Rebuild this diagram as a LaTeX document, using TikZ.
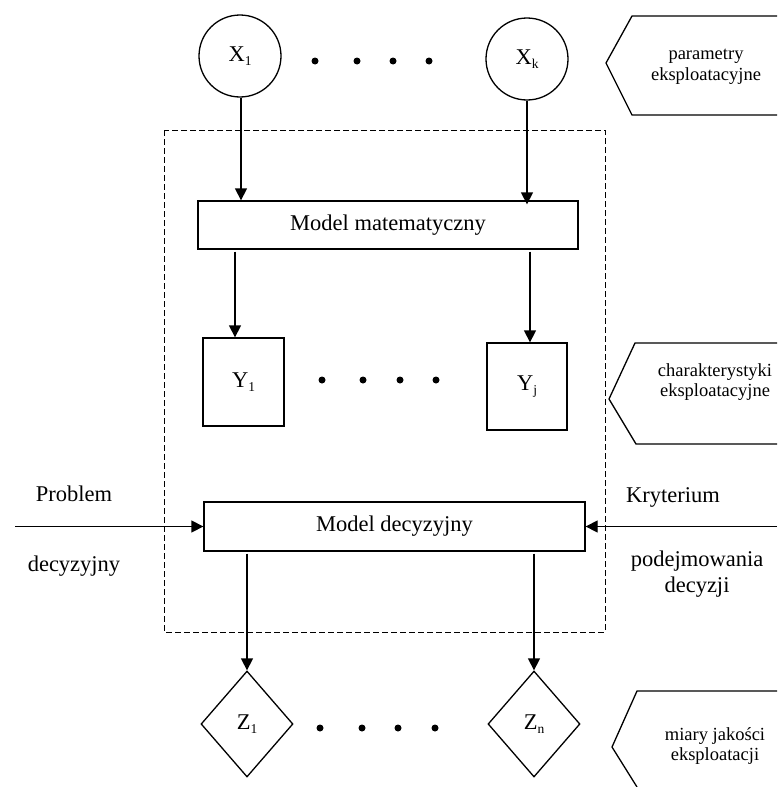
\documentclass[tikz,border=0pt]{standalone}
\usepackage{fontspec}
\setmainfont{Liberation Serif}
\usetikzlibrary{shapes.geometric,arrows.meta}
\newcommand\lowidx[1]{\raisebox{-0.35ex}{\fontsize{13.5}{13.5}\selectfont #1}}
\begin{document}
\begin{tikzpicture}[x=1pt,y=-1pt,
  every node/.style={font=\fontsize{22.5}{25}\selectfont},
  line/.style={line width=1.3pt},
  arr/.style={line, -{Triangle[length=12pt,width=12pt]}},
  frame/.style={line, draw, inner sep=0pt},
  circ/.style={frame, circle, minimum size=82pt},
  boxn/.style={frame, rectangle},
  dia/.style={frame, diamond, minimum width=92pt, minimum height=106pt},
  tag/.style={font=\fontsize{18.5}{20.5}\selectfont, align=center},
  dot/.style={fill=black, circle, inner sep=0pt, minimum size=7pt}]
\useasboundingbox (0,0) rectangle (777,787);

% dashed system boundary
\draw[line width=1pt, dash pattern=on 6pt off 3pt] (164,130) rectangle (605,632);

% input parameters
\node[circ] (X1) at (240,56) {X\lowidx{1}};
\node[circ] (Xk) at (527,59) {X\lowidx{k}};
\foreach \px/\nm in {315/a1,357/a2,393/a3,429/a4}
  \node[dot] (\nm) at (\px,61) {};

% mathematical model
\node[boxn, minimum width=380pt, minimum height=48pt] (mm) at (388,225) {Model matematyczny};

% operating characteristics
\node[boxn, minimum width=81pt, minimum height=88pt] (Y1) at (243.5,382) {Y\lowidx{1}};
\node[boxn, minimum width=80pt, minimum height=87pt] (Yj) at (527,386.5) {Y\lowidx{j}};
\foreach \px/\nm in {322/b1,363/b2,400/b3,436/b4}
  \node[dot] (\nm) at (\px,380) {};

% decision model
\node[boxn, minimum width=381pt, minimum height=49pt] (md) at (394.5,526.5) {Model decyzyjny};

% quality measures
\node[dia] (Z1) at (247,724) {Z\lowidx{1}};
\node[dia] (Zn) at (534,724) {Z\lowidx{n}};
\foreach \px/\nm in {320/c1,362/c2,398/c3,435/c4}
  \node[dot] (\nm) at (\px,728) {};

% side inputs of the decision model
\node (prob) at (74,494) {Problem};
\node (decy) at (74,566) {decyzyjny};
\node (kryt) at (673,497) {Kryterium};
\node[align=center, font=\fontsize{22.5}{25.5}\selectfont] (podj) at (697,574) {podejmowania\\decyzji};
\coordinate (pin) at (15,526.5);
\coordinate (kin) at (777,526.5);

% connectors
\draw[arr] (X1.south -| 241,0) -- (mm.north -| 241,0);
\draw[arr] (Xk.south) -- ([yshift=-4pt]mm.north -| Xk.south);
\draw[arr] ([yshift=-2pt]mm.south -| 235,0) -- (Y1.north -| 235,0);
\draw[arr] ([yshift=-2pt]mm.south -| 530,0) -- (Yj.north -| 530,0);
\draw[arr] (pin) -- (md.west);
\draw[arr] (kin) -- (md.east);
\draw[arr] ([yshift=-2pt]md.south -| Z1.north) -- (Z1.north);
\draw[arr] ([yshift=-2pt]md.south -| Zn.north) -- (Zn.north);

% category tags on the right
\draw[line] (777,16) -- (632,16) -- (606,63) -- (632,115) -- (777,115);
\node[tag] (t1) at (706,67) {parametry\\eksploatacyjne};
\draw[line] (777,343) -- (635,343) -- (609,399) -- (636,444) -- (777,444);
\node[tag] (t2) at (715,382) {charakterystyki\\eksploatacyjne};
\draw[line] (777,691) -- (637,691) -- (612,747) -- (637,787);
\node[tag] (t3) at (715,746) {miary jakości\\eksploatacji};
\end{tikzpicture}
\end{document}
